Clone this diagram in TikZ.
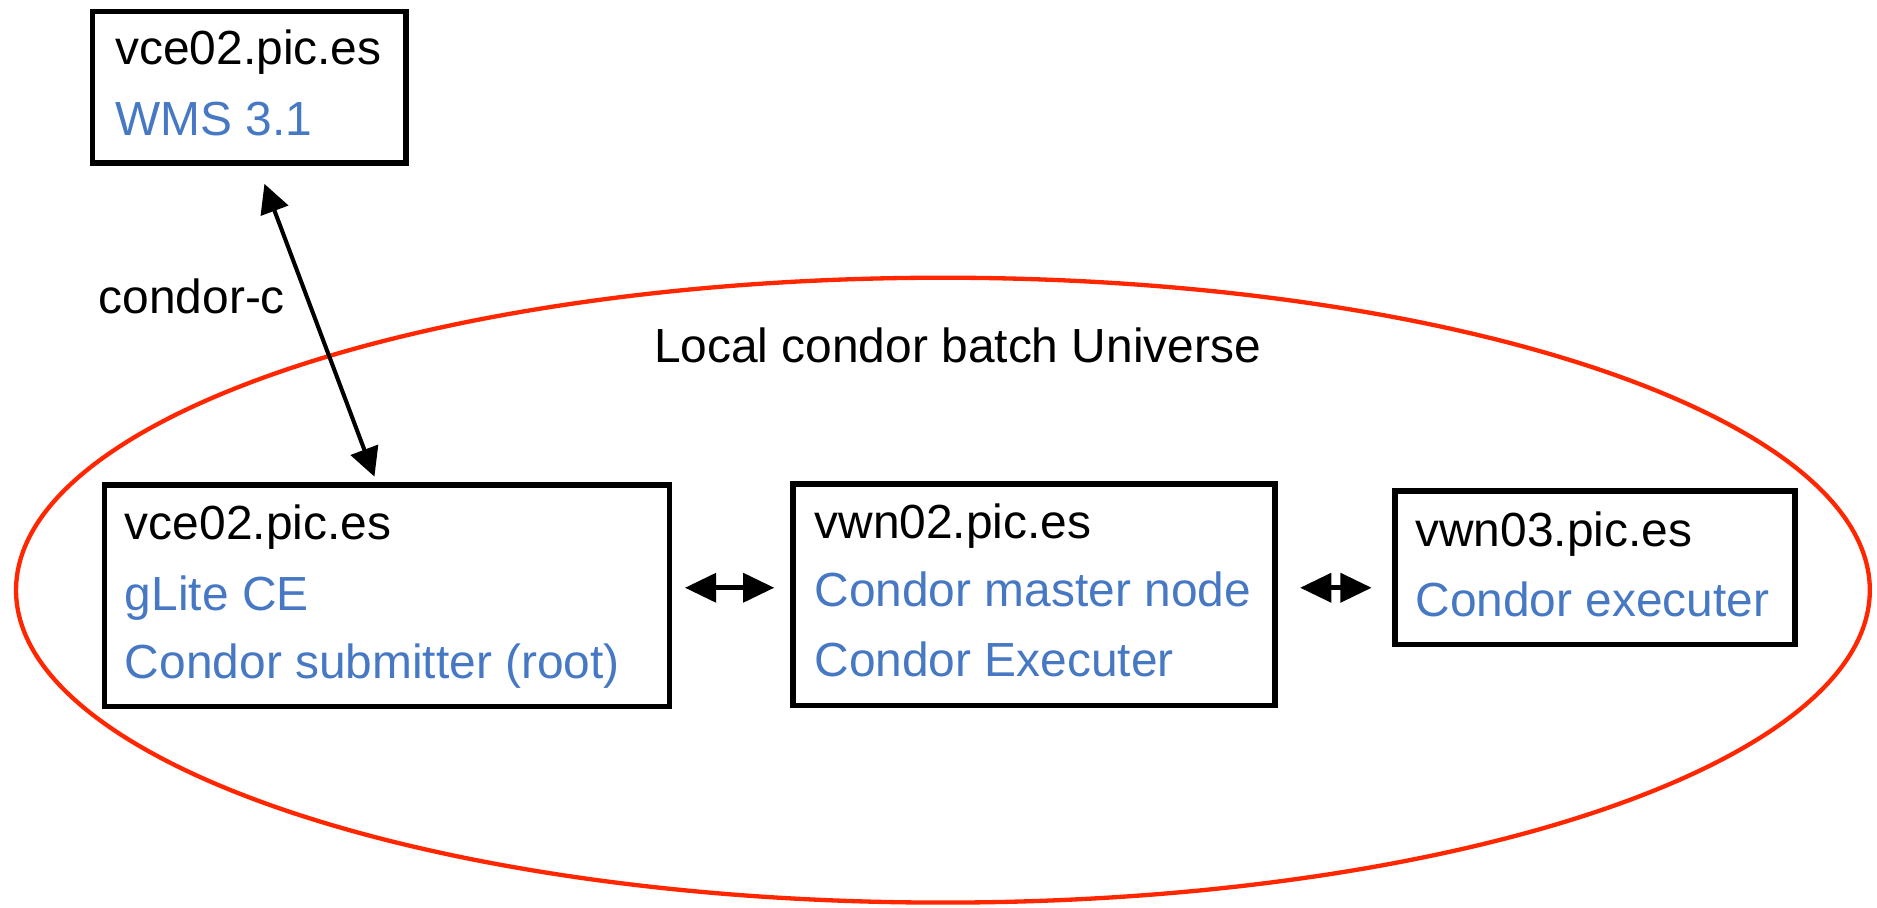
\documentclass[tikz,border=0pt]{standalone}
\usepackage{fontspec}
\setmainfont{Liberation Sans}
\usetikzlibrary{arrows.meta,calc}
\definecolor{ered}{RGB}{255,38,0}
\definecolor{tblue}{RGB}{70,120,196}
\begin{document}
\begin{tikzpicture}[x=0.5pt,y=-0.5pt,
  hostbox/.style={draw=black,line width=2.3pt,inner sep=0pt,anchor=north west},
  hosttxt/.style={anchor=base west,inner sep=0pt,font=\fontsize{20}{24}\selectfont,text=black},
  roletxt/.style={hosttxt,text=tblue},
  link/.style={line width=1.7pt,{Triangle[length=12pt,width=12pt]}-{Triangle[length=12pt,width=12pt]}},
  hlink/.style={line width=1.9pt,{Triangle[length=13pt,width=12pt]}-{Triangle[length=13pt,width=12pt]}},
  universe/.style={draw=ered,line width=1.8pt}
]
\useasboundingbox (0,0) rectangle (1568,757.7);
% universe ellipse
\draw[universe] (787.7,493) ellipse [x radius=774.3, y radius=261];
\node[hosttxt] (ulabel) at (546,303) {Local condor batch Universe};

% boxes
\node[hostbox,minimum width=131pt,minimum height=63.25pt] (wms) at (75,7.5) {};
\node[hostbox,minimum width=236pt,minimum height=92.5pt] (ce) at (85,403) {};
\node[hostbox,minimum width=201.5pt,minimum height=92.5pt] (mn) at (660,402) {};
\node[hostbox,minimum width=167pt,minimum height=64pt] (ex) at (1163,408) {};

% texts
\node[hosttxt] (wmsh) at (96,54) {vce02.pic.es};
\node[roletxt] (wmsr) at (96,113) {WMS 3.1};
\node[hosttxt] (ceh) at (104,451) {vce02.pic.es};
\node[roletxt] (cer1) at (104,509.6) {gLite CE};
\node[roletxt] (cer2) at (104,566.5) {Condor submitter (root)};
\node[hosttxt] (mnh) at (680,449.6) {vwn02.pic.es};
\node[roletxt] (mnr1) at (680,506.8) {Condor master node};
\node[roletxt] (mnr2) at (680,565) {Condor Executer};
\node[hosttxt] (exh) at (1182,456.6) {vwn03.pic.es};
\node[roletxt] (exr) at (1182,515) {Condor executer};
\node[hosttxt] (cclabel) at (82,261.6) {condor-c};

% connectors
\draw[link] ($(wms.south)+(12.6,15)$) -- ($(ce.north)+(-10.5,-4.8)$);
\coordinate (a1s) at ($(ce.east)+(10.6,-6.8)$);
\path (mn.west) ++(-13.2,0) coordinate (a1x);
\draw[hlink] (a1s) -- (a1x |- a1s);
\coordinate (a2s) at ($(mn.east)+(18.5,-5.8)$);
\path (ex.west) ++(-17.2,0) coordinate (a2x);
\draw[hlink] (a2s) -- (a2x |- a2s);
\end{tikzpicture}
\end{document}
